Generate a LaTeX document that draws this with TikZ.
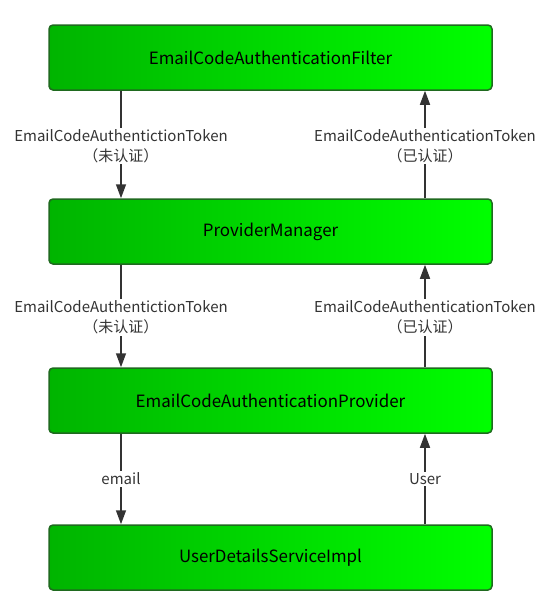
\documentclass[tikz,border=0pt]{standalone}
\usepackage{fontspec}
\setmainfont{Noto Sans CJK SC}
\usetikzlibrary{arrows.meta}
\definecolor{boxdark}{HTML}{00B400}
\definecolor{boxlight}{HTML}{00FF00}
\definecolor{boxline}{HTML}{1F6A1F}
\definecolor{flowline}{HTML}{333333}
\tikzset{
  stagebox/.style={draw=boxline, line width=1.5pt, rounded corners=4pt,
    left color=boxdark, right color=boxlight,
    minimum width=443pt, minimum height=65pt,
    font=\fontsize{16.9}{20}\selectfont},
  flow/.style={draw=flowline, line width=1.5pt, -{Triangle[length=14pt,width=10pt]}},
  flowlabel/.style={fill=white, text=flowline, inner sep=1.5pt, align=center,
    font=\fontsize{15}{20}\selectfont}
}
\begin{document}
\begin{tikzpicture}[x=1pt, y=-1pt]
			%%%%% START %%%%%
			\useasboundingbox (0, 0) rectangle (552, 614);
			
			\node[stagebox] (filter) at (270.5, 57.5) {\raisebox{-3.5pt}{EmailCodeAuthenticationFilter}};
			\node[stagebox] (manager) at (270.5, 231.5) {\raisebox{-3.5pt}{ProviderManager}};
			\node[stagebox] (provider) at (270.5, 400.5) {\raisebox{-3.5pt}{EmailCodeAuthenticationProvider}};
			\node[stagebox] (service) at (270.5, 557.5) {\raisebox{-3.5pt}{UserDetailsServiceImpl}};
			
			\coordinate (down) at (121, 0);
			\coordinate (up) at (425, 0);
			
			% going down
			\draw[flow] (filter.south -| down) -- node[flowlabel, yshift=-1.5pt] {EmailCodeAuthentictionToken\\（未认证）} (manager.north -| down);
			\draw[flow] (manager.south -| down) -- node[flowlabel, yshift=-1.5pt] {EmailCodeAuthentictionToken\\（未认证）} (provider.north -| down);
			\draw[flow] (provider.south -| down) -- node[flowlabel] {email} (service.north -| down);
			
			% coming back up
			\draw[flow] (manager.north -| up) -- node[flowlabel, yshift=-1.5pt] {EmailCodeAuthenticationToken\\（已认证）} (filter.south -| up);
			\draw[flow] (provider.north -| up) -- node[flowlabel, yshift=-1.5pt] {EmailCodeAuthenticationToken\\（已认证）} (manager.south -| up);
			\draw[flow] (service.north -| up) -- node[flowlabel] {User} (provider.south -| up);
			
			%%%%% END %%%%%
\end{tikzpicture}
\end{document}
